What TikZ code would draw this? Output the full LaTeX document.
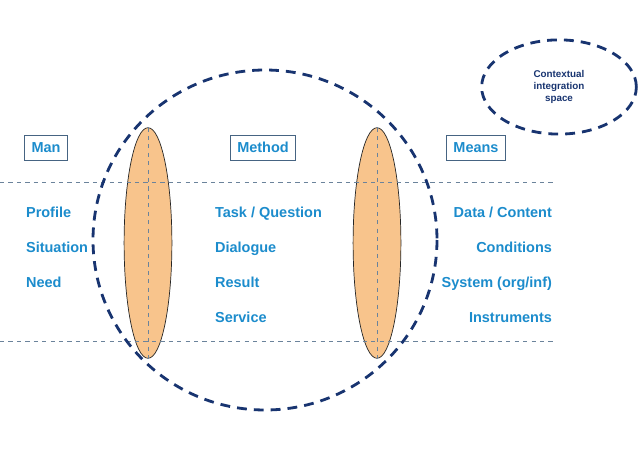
\documentclass[tikz,border=0pt]{standalone}
\usepackage{fontspec}
\setmainfont{Liberation Sans}
\usetikzlibrary{shapes.geometric, positioning, calc}
\definecolor{txtblue}{RGB}{28,140,204}
\definecolor{navy}{RGB}{24,52,112}
\definecolor{lens}{RGB}{248,196,140}
\definecolor{boxline}{RGB}{70,100,130}

\begin{document}
\begin{tikzpicture}[x=0.025cm, y=-0.025cm, inner sep=2pt,
  every node/.style = {font=\fontsize{10.3}{12}\selectfont\bfseries, text=txtblue},
  head/.style = {draw=boxline, line width=0.6pt, minimum height=18pt, inner xsep=5pt,
    text height=8pt, text depth=2pt},
  item/.style = {anchor=west, text height=8pt, text depth=2.5pt},
  itemr/.style = {item, anchor=east},
  lens/.style = {ellipse, draw=black!85, line width=0.5pt, fill=lens,
    minimum width=34pt, minimum height=164pt},
  guide/.style = {draw=boxline!80, dashed, line width=0.5pt},
  space/.style = {draw=navy, line width=2pt, dash pattern=on 7pt off 5pt}]
  \useasboundingbox (0,0) rectangle (638,452);
  % lenses between the three columns
  \node[lens] (lensL) at (148,243) {};
  \node[lens] (lensR) at (377,243) {};
  % guide lines
  \coordinate (topL) at (0,182);
  \coordinate (topR) at (555,182);
  \coordinate (botL) at (0,341);
  \coordinate (botR) at (555,341);
  \draw[guide] (topL) -- (topR);
  \draw[guide] (botL) -- (botR);
  \draw[guide] (lensL.north) -- (lensL.south);
  \draw[guide] (lensR.north) -- (lensR.south);
  % integration spaces
  \draw[space] (265,240) ellipse [x radius=172, y radius=170];
  \node[space, ellipse, minimum width=110pt, minimum height=67pt, align=center,
    font=\fontsize{7}{8.5}\selectfont\bfseries, text=navy] (ctx) at (559,87)
    {Contextual\\integration\\space};
  % column heads
  \node[head] (man) at (46,148) {Man};
  \node[head] (method) at (263,148) {Method};
  \node[head] (means) at (476,148) {Means};
  % Man
  \node[item] (profile) at (23,214) {Profile};
  \node[item] (situation) at (23,249) {Situation};
  \node[item] (need) at (23,284) {Need};
  % Method
  \node[item] (task) at (212,214) {Task / Question};
  \node[item] (dialogue) at (212,249) {Dialogue};
  \node[item] (result) at (212,284) {Result};
  \node[item] (service) at (212,319) {Service};
  % Means
  \node[itemr] (data) at (555,214) {Data / Content};
  \node[itemr] (conditions) at (555,249) {Conditions};
  \node[itemr] (system) at (555,284) {System (org/inf)};
  \node[itemr] (instruments) at (555,319) {Instruments};
\end{tikzpicture}
\end{document}
